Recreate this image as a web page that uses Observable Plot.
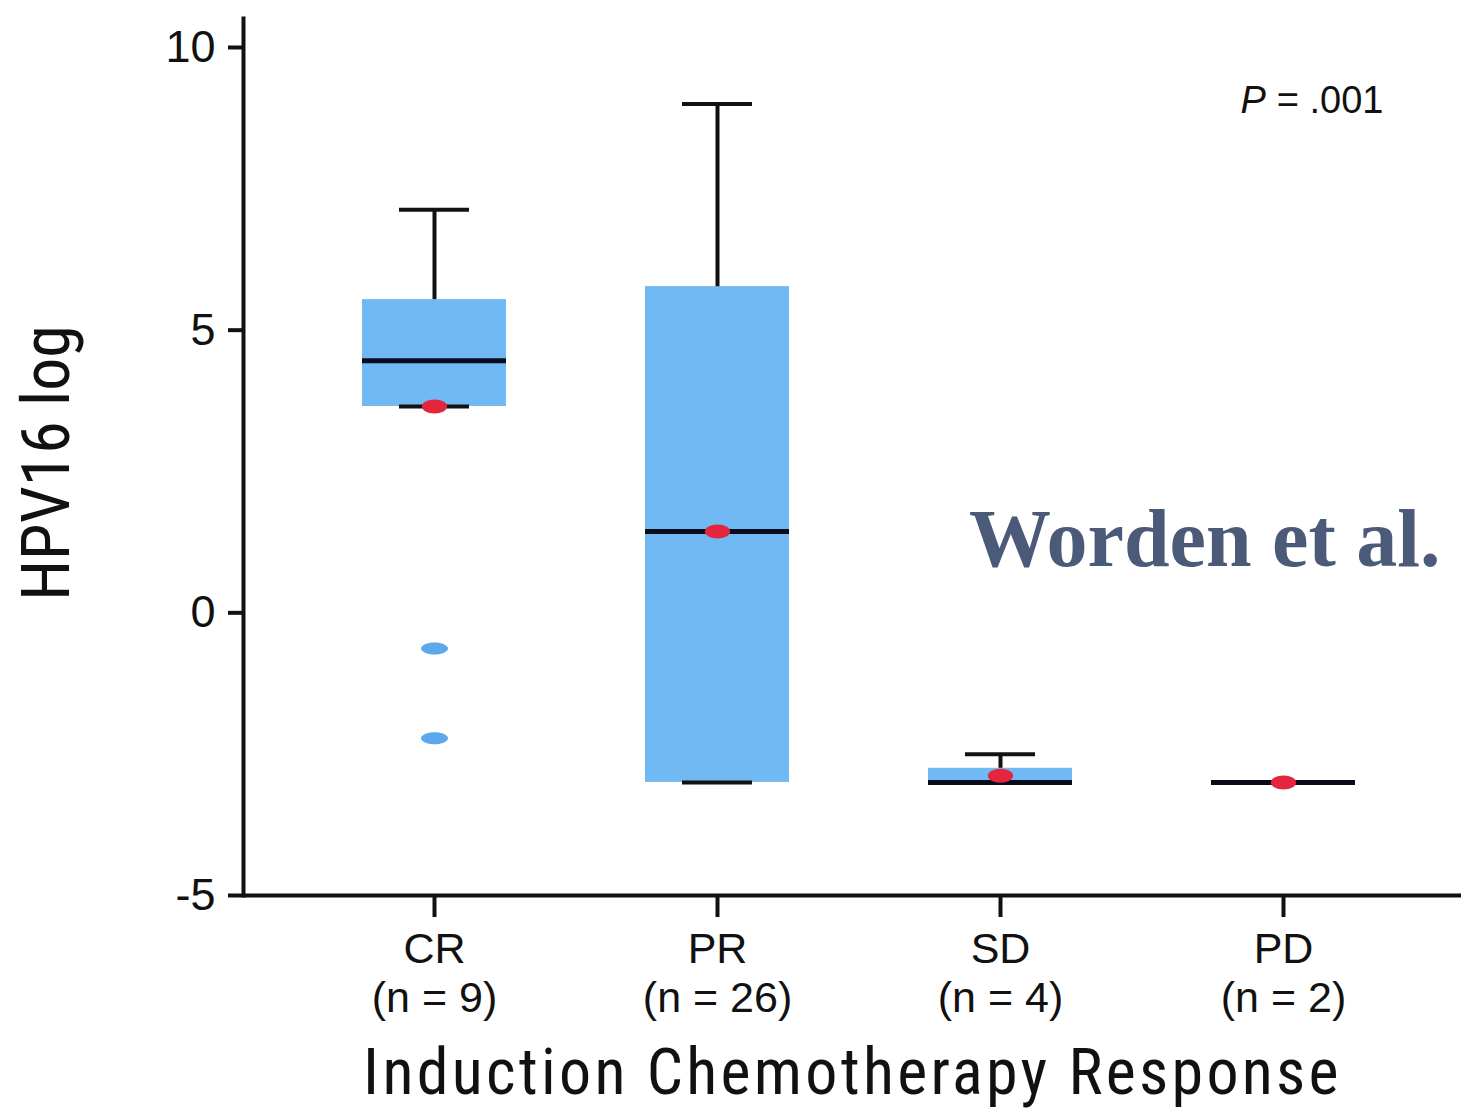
<!DOCTYPE html>
<html><head><meta charset="utf-8">
<script src="https://cdn.jsdelivr.net/npm/d3@7"></script>
<script src="https://cdn.jsdelivr.net/npm/@observablehq/plot@0.6"></script>
<style>body{margin:0;background:#fff}</style>
</head><body><div id="chart"></div>
<script>
// ---- data ----
const categories = ["CR", "PR", "SD", "PD"];
const groupSizes = [9, 26, 4, 2];
const q1Values = [3.65, -3.0, -3.0, -3.0];
const q3Values = [5.54, 5.77, -2.75, -3.0];
const medianValues = [4.46, 1.44, -3.0, -3.0];
const whiskerLow = [3.65, -3.0, -3.0, -3.0];
const whiskerHigh = [7.13, 9.0, -2.5, -3.0];
const meanValues = [3.65, 1.44, -2.88, -3.0];
const outlierCategories = ["CR", "CR"];
const outlierValues = [-0.63, -2.22];
const yTicks = [10, 5, 0, -5];
const pLetter = "P";
const pValueText = "= .001";
const yLabel = "HPV16 log";
const xLabel = "Induction Chemotherapy Response";
const watermark = "Worden et al.";

const boxes = categories.map((c, i) => ({
  cat: c, n: groupSizes[i], q1: q1Values[i], q3: q3Values[i], median: medianValues[i],
  lo: whiskerLow[i], hi: whiskerHigh[i], mean: meanValues[i]
}));
const outliers = outlierValues.map((v, i) => ({cat: outlierCategories[i], v}));

function ellipse(aspect) {
  return {
    draw(ctx, size) {
      const r = Math.sqrt(size / Math.PI), rx = r * aspect, ry = r, k = 0.5523;
      ctx.moveTo(rx, 0);
      ctx.bezierCurveTo(rx, ry * k, rx * k, ry, 0, ry);
      ctx.bezierCurveTo(-rx * k, ry, -rx, ry * k, -rx, 0);
      ctx.bezierCurveTo(-rx, -ry * k, -rx * k, -ry, 0, -ry);
      ctx.bezierCurveTo(rx * k, -ry, rx, -ry * k, rx, 0);
      ctx.closePath();
    }
  };
}

const narrow = "'Liberation Sans Narrow', 'Roboto Condensed', 'DejaVu Sans Condensed', 'Arial Narrow', sans-serif";
const ink = "#111";

const plot = Plot.plot({
  width: 1461, height: 1111,
  marginLeft: 243, marginRight: 0, marginTop: 18, marginBottom: 216,
  style: {fontFamily: "'Liberation Sans', Arial, sans-serif", background: "#fff", color: ink},
  x: {domain: categories, range: [292.5, 1424.5], paddingInner: 0.491, paddingOuter: 0.2455, label: null},
  y: {domain: [-5, 10], range: [895, 47], label: null},
  marks: [
    Plot.barY(boxes, {x: "cat", y1: "q1", y2: "q3", fill: "#71b9f3"}),
    Plot.ruleX(boxes, {x: "cat", y1: "q3", y2: "hi", stroke: ink, strokeWidth: 4}),
    Plot.ruleX(boxes, {x: "cat", y1: "lo", y2: "q1", stroke: ink, strokeWidth: 4}),
    Plot.tickY(boxes, {x: "cat", y: "hi", insetLeft: 37, insetRight: 37, stroke: ink, strokeWidth: 4}),
    Plot.tickY(boxes, {x: "cat", y: "lo", insetLeft: 37, insetRight: 37, stroke: ink, strokeWidth: 4}),
    Plot.tickY(boxes, {x: "cat", y: "median", stroke: "#0b0b1e", strokeWidth: 5}),
    Plot.dot(outliers, {x: "cat", y: "v", r: 6, symbol: ellipse(2.25), fill: "#5ba8ea"}),
    Plot.dot(boxes, {x: "cat", y: "mean", r: 7, symbol: ellipse(1.8), fill: "#e3263d"}),
    Plot.axisY({ticks: yTicks, tickFormat: d => String(d), tickSize: 15, tickPadding: 13, fontSize: 45, strokeWidth: 4, label: null}),
    Plot.axisX({
      tickFormat: d => `${d}\n(n = ${groupSizes[categories.indexOf(d)]})`,
      tickSize: 22, tickPadding: 11, fontSize: 43, lineHeight: 1.14, strokeWidth: 4, label: null
    }),
    Plot.frame({anchor: "left", stroke: ink, strokeWidth: 4}),
    Plot.ruleY([-5], {stroke: ink, strokeWidth: 4}),
    Plot.text([yLabel], {frameAnchor: "left", textAnchor: "middle", rotate: -90, dx: -196, dy: 6, lineAnchor: "middle", fontSize: 66, fontFamily: narrow, fill: ink}),
    Plot.text([xLabel], {frameAnchor: "bottom", textAnchor: "middle", dy: 153, lineAnchor: "top", fontSize: 64, fontFamily: narrow, fill: ink}),
    Plot.text([pLetter], {frameAnchor: "top-right", textAnchor: "start", dx: -221, dy: 68, lineAnchor: "top", fontSize: 38, fontStyle: "italic", fill: ink}),
    Plot.text([pValueText], {frameAnchor: "top-right", textAnchor: "end", dx: -78, dy: 68, lineAnchor: "top", fontSize: 38, fill: ink}),
    Plot.text([watermark], {frameAnchor: "right", textAnchor: "end", dx: -21, dy: 51, lineAnchor: "top", fontSize: 82, fontWeight: "bold", fontFamily: "'Liberation Serif', 'DejaVu Serif', serif", fill: "#4b5a79"})
  ]
});

d3.select(plot).selectAll("text").filter(function () { return this.textContent === xLabel; })
  .style("letter-spacing", "3.3px");
document.getElementById("chart").appendChild(plot);
</script>
</body></html>
